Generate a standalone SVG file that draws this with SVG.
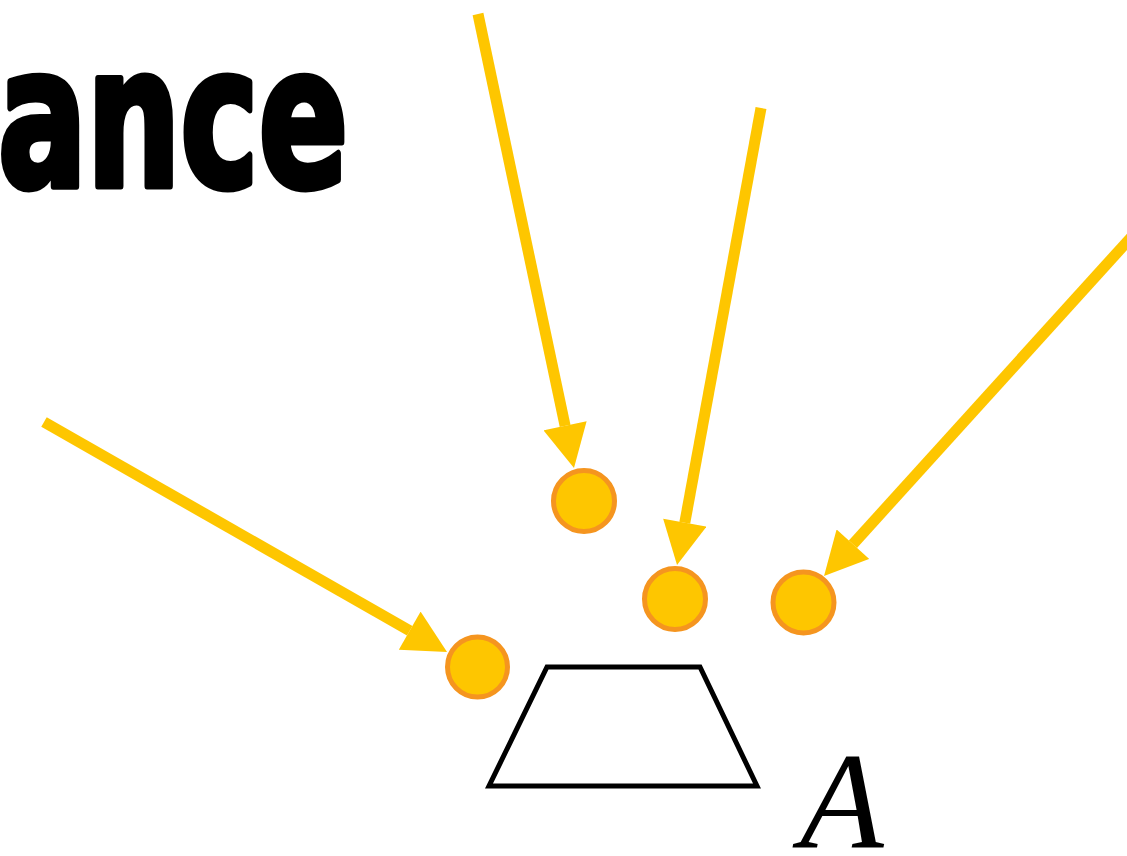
<svg xmlns="http://www.w3.org/2000/svg" width="1127" height="856" viewBox="0 0 1127 856">
<style>
.ray{stroke:#FEC600;stroke-width:11;fill:none;marker-end:url(#head)}
.pt{fill:#FEC600;stroke:#F5951F;stroke-width:5}
.title{font-family:"DejaVu Sans Condensed","DejaVu Sans",sans-serif;font-weight:bold;font-size:196px;fill:#000;stroke:#000;stroke-width:7;stroke-linejoin:round}
.lbl{font-family:"Liberation Serif",serif;font-style:italic;font-size:137px;fill:#000}
</style>
<defs>
<marker id="head" markerUnits="userSpaceOnUse" markerWidth="44" markerHeight="44" refX="0" refY="22" orient="auto" viewBox="0 0 43 44">
<path d="M0,0 L43,22 L0,44 Z" fill="#FEC600"/>
</marker>
</defs>
<rect width="1127" height="856" fill="#fff"/>
<g id="title"><text class="title" x="-2" y="186" textLength="350" lengthAdjust="spacingAndGlyphs">ance</text></g>
<g id="connectors">
<line class="ray" x1="44" y1="422" x2="409.7" y2="630.7"/>
<line class="ray" x1="478" y1="14" x2="565.1" y2="425.9"/>
<line class="ray" x1="761" y1="108" x2="684.8" y2="522.7"/>
<line class="ray" x1="1135" y1="233" x2="852.9" y2="544.2"/>
</g>
<g id="p1"><circle class="pt" cx="477.5" cy="667" r="30"/></g>
<g id="p2"><circle class="pt" cx="584" cy="501" r="30.5"/></g>
<g id="p3"><circle class="pt" cx="675" cy="599" r="30.5"/></g>
<g id="p4"><circle class="pt" cx="803.5" cy="602.5" r="30.5"/></g>
<g id="surface"><polygon points="547,667 700,667 757,786 489,786" fill="none" stroke="#000" stroke-width="5"/></g>
<g id="label-A"><text class="lbl" x="800" y="847">A</text></g>
</svg>
